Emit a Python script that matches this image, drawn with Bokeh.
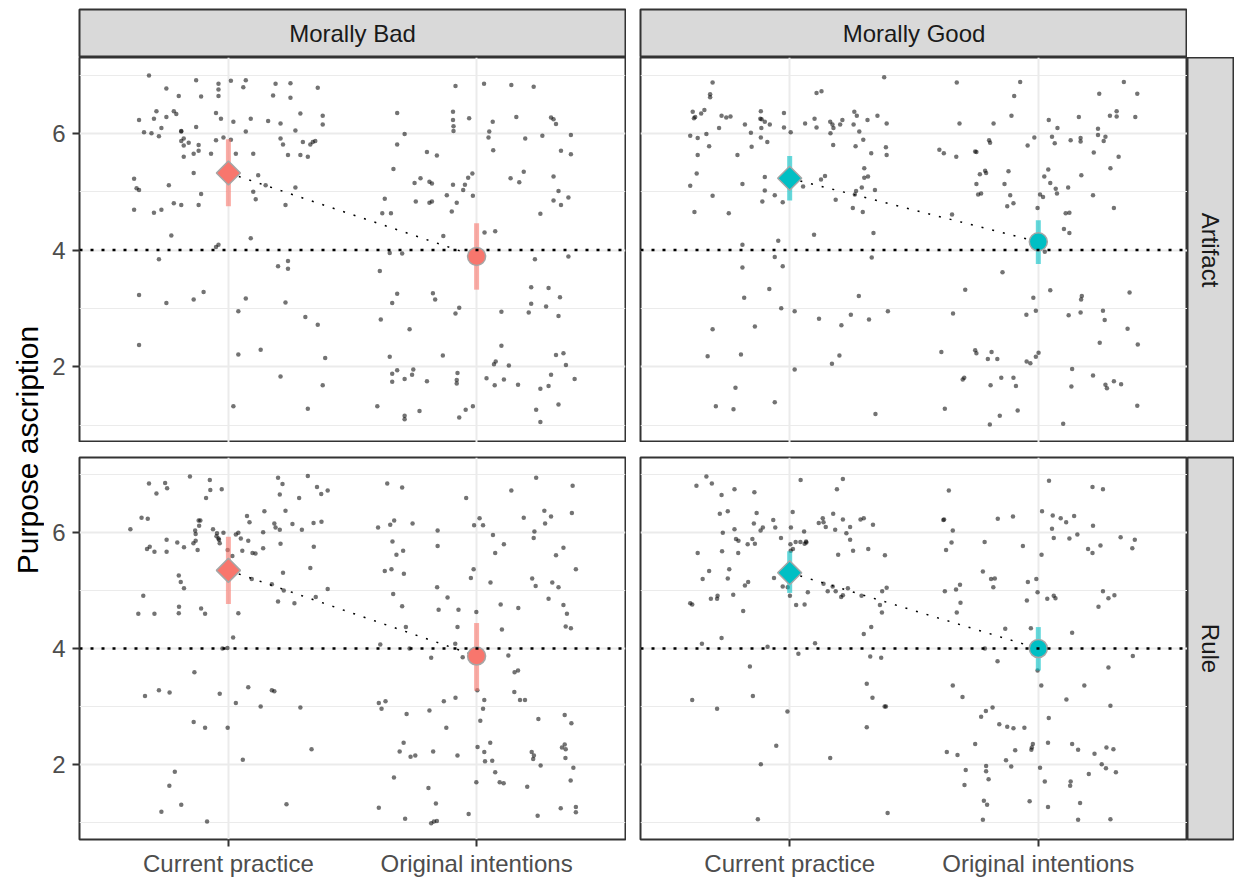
import math
from bokeh.plotting import figure
from bokeh.layouts import row, column
from bokeh.models import FixedTicker, LinearAxis, Range1d, ColumnDataSource, Grid, Span
from bokeh.core.properties import value
from bokeh.embed import file_html
from bokeh.resources import INLINE

# ---------------- data ----------------
conditions = ["Current practice", "Original intentions"]
morality = ["Morally Bad", "Morally Good"]
types = ["Artifact", "Rule"]
moral_colors = ["#F8766D", "#00BFC4"]
y_ticks = [2, 4, 6]
reference_level = 4

# summary: mean and interval per condition [Current practice, Original intentions]
bad_artifact_mean = [5.32, 3.89]
bad_artifact_lo = [4.75, 3.32]
bad_artifact_hi = [5.90, 4.46]
good_artifact_mean = [5.23, 4.14]
good_artifact_lo = [4.85, 3.76]
good_artifact_hi = [5.61, 4.51]
bad_rule_mean = [5.35, 3.87]
bad_rule_lo = [4.77, 3.27]
bad_rule_hi = [5.93, 4.44]
good_rule_mean = [5.31, 4.00]
good_rule_lo = [4.96, 3.62]
good_rule_hi = [5.68, 4.37]

# individual responses: [jitter offset from condition, rating]
bad_artifact_cp = [[-0.32,6.99],[-0.13,6.91],[-0.04,6.85],[0.01,6.90],[0.07,6.91],[0.06,6.79],[0.19,6.85],[0.25,6.86],[0.36,6.78],[-0.25,6.77],[-0.04,6.75],[-0.20,6.64],[-0.11,6.63],[-0.04,6.64],[0.18,6.65],[0.25,6.61],[-0.29,6.38],[-0.22,6.38],[-0.21,6.33],[-0.25,6.28],[-0.05,6.35],[-0.03,6.25],[0.02,6.20],[0.09,6.25],[0.16,6.21],[0.21,6.17],[0.29,6.34],[0.38,6.30],[0.38,6.15],[-0.36,6.23],[-0.30,6.25],[-0.34,6.02],[-0.31,6.00],[-0.28,5.95],[-0.27,6.09],[-0.13,6.11],[-0.19,6.04],[-0.19,6.03],[0.07,6.03],[0.27,6.05],[-0.18,5.91],[-0.19,5.87],[-0.16,5.84],[-0.18,5.79],[-0.12,5.80],[-0.05,5.88],[-0.02,5.93],[0.01,5.89],[0.21,5.91],[0.22,5.81],[0.30,5.85],[0.33,5.81],[0.34,5.85],[0.35,5.87],[-0.18,5.60],[-0.14,5.65],[-0.12,5.70],[-0.07,5.65],[0.03,5.65],[0.10,5.65],[0.24,5.63],[0.29,5.63],[0.32,5.60],[-0.14,5.32],[-0.38,5.22],[-0.37,5.06],[-0.36,5.03],[-0.24,5.11],[-0.11,4.96],[0.12,5.28],[0.15,5.11],[0.10,5.00],[0.27,5.07],[0.11,4.87],[0.23,4.77],[-0.38,4.69],[-0.30,4.64],[-0.27,4.69],[-0.22,4.80],[-0.19,4.77],[-0.12,4.77],[-0.23,4.25],[0.09,4.20],[-0.04,4.09],[-0.05,4.05],[-0.28,3.84],[0.20,3.72],[0.24,3.81],[0.24,3.68],[-0.36,3.23],[-0.25,3.09],[-0.14,3.15],[-0.10,3.28],[0.07,3.17],[0.04,2.95],[0.23,3.10],[0.31,2.85],[0.36,2.72],[-0.36,2.37],[0.04,2.21],[0.13,2.29],[0.39,2.15],[0.21,1.83],[0.38,1.68],[0.02,1.32],[0.32,1.28]]

bad_artifact_oi = [[-0.085,6.81],[0.03,6.85],[0.14,6.83],[0.23,6.80],[-0.32,6.35],[-0.095,6.37],[-0.095,6.23],[-0.093,6.12],[-0.093,6.04],[-0.03,6.26],[0.065,6.20],[0.051,6.03],[0.048,5.93],[0.067,5.71],[0.16,6.28],[0.30,6.27],[0.31,6.24],[0.32,6.16],[-0.29,5.99],[-0.32,5.81],[0.196,5.91],[0.265,5.96],[0.38,5.97],[0.34,5.70],[0.38,5.64],[-0.20,5.68],[-0.16,5.62],[-0.335,5.39],[-0.25,5.15],[-0.226,5.23],[-0.19,5.17],[-0.18,5.14],[-0.095,5.12],[-0.047,5.12],[-0.054,5.03],[-0.034,5.24],[-0.017,5.31],[-0.015,4.93],[-0.12,4.94],[-0.08,4.81],[-0.10,4.66],[-0.245,4.83],[-0.19,4.81],[-0.18,4.83],[-0.37,4.88],[-0.38,4.63],[-0.345,4.63],[0.137,5.23],[0.172,5.16],[0.19,5.34],[0.31,5.26],[0.33,5.01],[0.31,4.85],[0.34,4.77],[0.37,4.90],[0.257,4.62],[-0.134,4.24],[0.032,4.30],[0.075,4.32],[-0.35,3.95],[-0.30,3.94],[-0.39,3.64],[0.235,3.84],[0.37,3.89],[-0.32,3.25],[-0.34,3.09],[-0.176,3.26],[-0.167,3.15],[-0.386,2.81],[-0.27,2.64],[-0.085,2.91],[-0.07,3.01],[0.10,2.94],[0.22,3.36],[0.29,3.35],[0.336,3.19],[0.22,3.08],[0.21,2.93],[0.28,3.03],[0.33,2.87],[0.10,2.36],[-0.35,2.17],[-0.136,2.19],[-0.34,1.88],[-0.32,1.94],[-0.255,1.95],[-0.26,1.86],[-0.34,1.74],[-0.29,1.79],[-0.20,1.75],[-0.077,1.89],[-0.08,1.77],[-0.08,1.71],[0.07,2.04],[0.077,2.09],[0.13,2.02],[0.04,1.80],[0.073,1.68],[0.11,1.78],[0.167,1.69],[0.32,2.20],[0.35,2.23],[0.36,2.03],[0.30,1.86],[0.395,1.79],[0.257,1.62],[0.29,1.67],[-0.40,1.32],[-0.29,1.16],[-0.29,1.10],[-0.23,1.24],[-0.044,1.26],[-0.015,1.32],[-0.07,1.13],[0.24,1.26],[0.33,1.35],[0.257,1.05]]

good_artifact_cp = [[-0.31,6.87],[-0.32,6.67],[-0.32,6.62],[-0.39,6.37],[-0.385,6.26],[-0.38,6.28],[-0.356,6.34],[-0.343,6.40],[-0.274,6.30],[-0.255,6.27],[-0.238,6.29],[-0.116,6.38],[-0.118,6.25],[-0.113,6.24],[-0.10,6.20],[-0.023,6.35],[0.108,6.69],[0.128,6.72],[0.38,6.96],[-0.284,6.09],[-0.18,6.15],[-0.114,6.09],[-0.08,6.15],[-0.023,6.10],[0.004,6.02],[-0.156,6.01],[-0.116,5.93],[-0.09,5.85],[-0.153,5.77],[0.062,6.17],[0.10,6.25],[0.108,6.10],[0.163,6.20],[0.172,6.15],[0.176,6.09],[0.164,6.00],[0.203,6.15],[0.212,6.23],[0.26,6.37],[0.27,6.30],[0.313,6.23],[0.257,6.15],[0.28,6.03],[0.353,6.30],[0.39,6.17],[-0.40,5.96],[-0.37,5.92],[-0.335,5.99],[-0.324,5.78],[-0.37,5.63],[-0.21,5.63],[0.175,5.80],[0.265,5.78],[0.296,5.89],[0.328,5.66],[0.387,5.76],[0.39,5.63],[-0.374,5.31],[-0.40,5.10],[-0.31,4.93],[-0.383,4.65],[-0.245,4.63],[-0.19,5.13],[-0.10,5.25],[-0.10,5.02],[-0.11,4.83],[-0.06,4.94],[-0.028,4.82],[0.054,5.09],[0.126,5.21],[0.142,5.27],[0.185,4.86],[0.267,5.01],[0.262,4.95],[0.29,5.07],[0.30,5.24],[0.315,5.26],[0.30,5.40],[0.343,5.03],[0.254,4.72],[0.294,4.65],[0.098,4.26],[0.337,4.29],[-0.19,4.09],[-0.046,4.16],[-0.06,3.88],[-0.028,3.72],[0.33,3.87],[-0.19,3.70],[-0.082,3.33],[-0.183,3.18],[-0.034,3.00],[0.02,2.95],[0.278,3.21],[0.246,2.89],[0.395,2.95],[0.118,2.82],[0.208,2.71],[0.319,2.81],[-0.31,2.64],[-0.14,2.69],[-0.33,2.18],[-0.196,2.21],[0.20,2.19],[0.17,2.05],[0.02,1.95],[-0.218,1.64],[-0.297,1.32],[-0.226,1.27],[-0.06,1.39],[0.345,1.19]]

good_artifact_oi = [[-0.328,6.87],[-0.073,6.88],[-0.097,6.64],[-0.317,6.17],[-0.18,6.17],[-0.108,6.30],[0.245,6.68],[0.344,6.88],[0.398,6.68],[0.39,6.28],[0.288,6.30],[0.315,6.38],[0.315,6.29],[0.163,6.28],[0.042,6.23],[0.077,6.09],[0.24,6.08],[0.24,5.97],[0.27,5.94],[0.263,5.87],[-0.198,5.88],[-0.194,5.84],[-0.016,5.93],[-0.043,5.79],[0.055,5.94],[0.066,5.83],[0.13,5.88],[0.17,5.92],[0.17,5.86],[0.223,5.67],[0.323,5.60],[-0.398,5.72],[-0.38,5.66],[-0.33,5.60],[-0.254,5.69],[-0.249,5.68],[-0.235,5.30],[-0.214,5.36],[-0.21,5.32],[-0.12,5.35],[-0.249,5.13],[-0.136,5.13],[0.024,5.26],[0.04,5.38],[0.048,5.15],[0.07,5.05],[0.075,4.97],[0.12,5.07],[0.173,5.28],[0.29,5.40],[0.22,4.94],[0.304,4.72],[-0.242,4.95],[-0.23,4.97],[-0.113,4.94],[-0.125,4.75],[-0.10,4.80],[-0.003,4.72],[0.007,4.95],[0.019,4.91],[0.11,4.63],[0.125,4.64],[-0.347,4.61],[0.103,4.36],[0.125,4.29],[0.026,3.97],[-0.144,3.62],[-0.294,3.32],[0.048,3.31],[-0.02,3.18],[0.175,3.21],[0.172,3.15],[0.367,3.27],[-0.343,2.91],[-0.048,2.89],[-0.01,2.96],[0.122,2.88],[0.17,2.93],[0.26,2.96],[0.267,2.80],[0.359,2.65],[0.247,2.41],[0.40,2.38],[-0.39,2.25],[-0.254,2.28],[-0.249,2.23],[-0.188,2.25],[-0.203,2.13],[-0.165,2.13],[-0.047,2.09],[-0.032,2.06],[-0.01,2.17],[0.001,2.24],[0.136,1.96],[-0.304,1.78],[-0.298,1.81],[-0.192,1.68],[-0.149,1.81],[-0.10,1.81],[-0.09,1.67],[0.133,1.66],[0.22,1.85],[0.27,1.69],[0.276,1.63],[0.304,1.75],[0.333,1.70],[-0.376,1.28],[-0.155,1.16],[-0.083,1.25],[-0.195,1.01],[0.10,1.02],[0.398,1.33]]

bad_rule_cp = [[-0.32,6.85],[-0.255,6.86],[-0.247,6.77],[-0.29,6.68],[-0.155,6.97],[-0.075,6.91],[-0.073,6.74],[-0.09,6.60],[-0.027,6.75],[0.20,6.95],[0.218,6.84],[0.207,6.66],[0.285,6.60],[0.32,6.98],[0.357,6.79],[0.374,6.67],[0.40,6.73],[-0.35,6.26],[-0.325,6.24],[-0.395,6.06],[-0.12,6.21],[-0.113,6.21],[-0.118,6.12],[-0.134,6.04],[-0.132,5.98],[-0.062,6.06],[-0.046,5.99],[-0.048,5.94],[-0.02,6.00],[0.075,6.29],[0.085,6.18],[0.145,6.37],[0.23,6.38],[0.185,6.16],[0.19,6.09],[0.207,6.05],[0.258,6.15],[0.296,6.05],[0.343,6.17],[0.375,6.19],[0.14,6.01],[0.03,5.97],[0.04,6.00],[-0.328,5.72],[-0.317,5.76],[-0.298,5.67],[-0.249,5.88],[-0.249,5.67],[-0.206,5.83],[-0.179,5.75],[-0.141,5.82],[-0.132,5.86],[-0.124,5.70],[-0.04,5.90],[-0.035,5.82],[-0.038,5.88],[-0.003,5.70],[0.016,5.60],[0.05,5.90],[0.08,5.86],[0.056,5.69],[0.097,5.65],[0.109,5.64],[0.14,5.73],[0.21,5.81],[0.344,5.76],[-0.20,5.26],[-0.192,5.15],[-0.179,5.04],[-0.343,4.91],[-0.363,4.60],[-0.298,4.60],[-0.199,4.72],[-0.20,4.61],[-0.11,4.69],[-0.094,4.60],[0.04,4.61],[0.22,5.31],[0.33,5.39],[0.175,5.11],[0.094,5.20],[0.223,5.00],[0.20,4.81],[0.266,4.78],[0.352,4.89],[0.40,5.03],[0.019,4.19],[-0.024,4.00],[-0.004,4.01],[-0.137,3.59],[-0.336,3.18],[-0.28,3.28],[-0.237,3.24],[-0.035,3.22],[0.03,3.06],[0.08,3.33],[0.13,3.00],[0.175,3.28],[0.185,3.26],[0.29,2.98],[-0.14,2.73],[-0.094,2.63],[-0.003,2.63],[0.335,2.26],[0.058,2.08],[-0.216,1.87],[-0.238,1.63],[-0.19,1.30],[-0.27,1.18],[-0.086,1.01],[0.234,1.31]]

bad_rule_oi = [[-0.36,6.85],[-0.30,6.78],[-0.042,6.60],[0.24,6.95],[0.387,6.81],[0.14,6.73],[-0.397,6.09],[-0.348,6.14],[-0.332,6.21],[-0.258,6.16],[-0.157,6.04],[-0.157,5.77],[-0.01,6.13],[0.012,6.25],[0.026,6.13],[0.066,5.96],[0.11,5.80],[0.075,5.65],[0.19,6.26],[0.273,6.38],[0.30,6.28],[0.276,6.16],[0.233,6.02],[0.23,5.91],[0.384,6.34],[0.35,5.74],[0.32,5.61],[0.40,5.37],[-0.339,5.85],[-0.323,5.62],[-0.296,5.69],[-0.37,5.34],[-0.343,5.37],[-0.293,5.29],[-0.159,5.06],[-0.012,5.37],[-0.023,5.22],[0.056,5.14],[0.224,5.21],[0.238,5.08],[0.305,5.14],[0.33,5.06],[-0.336,4.94],[-0.30,4.73],[-0.117,4.88],[-0.153,4.67],[-0.073,4.67],[-0.001,4.63],[0.097,4.76],[0.168,4.70],[0.29,4.86],[0.35,4.75],[0.364,4.60],[0.359,4.38],[0.38,4.35],[-0.285,4.37],[-0.077,4.37],[0.102,4.33],[-0.388,4.07],[-0.27,4.00],[-0.183,3.84],[-0.086,4.08],[-0.056,3.85],[0.128,3.88],[0.153,3.59],[0.167,3.62],[0.003,3.28],[-0.394,3.06],[-0.367,3.09],[-0.383,2.96],[-0.282,2.87],[-0.19,2.93],[-0.132,3.09],[-0.085,3.15],[0.031,3.11],[0.026,2.96],[0.015,2.75],[0.152,3.25],[0.175,3.11],[0.195,3.11],[0.355,2.85],[0.382,2.71],[0.249,2.78],[-0.122,2.63],[-0.294,2.37],[-0.31,2.22],[-0.266,2.13],[-0.247,2.15],[-0.175,2.22],[-0.077,2.15],[0.004,2.30],[0.031,2.21],[0.034,2.05],[0.055,2.37],[0.063,2.06],[0.222,2.21],[0.231,2.15],[0.228,2.09],[0.258,1.98],[0.344,2.29],[0.355,2.34],[0.359,2.26],[0.358,2.11],[0.39,1.94],[-0.333,1.77],[-0.194,1.59],[-0.001,1.69],[0.075,1.86],[0.093,1.69],[0.109,1.67],[0.204,1.61],[0.379,1.72],[-0.394,1.25],[-0.288,1.06],[-0.164,1.32],[-0.032,1.14],[-0.183,0.98],[-0.172,1.01],[-0.16,1.02],[0.246,1.11],[0.339,1.24],[0.40,1.26],[0.40,1.17]]

good_rule_cp = [[-0.335,6.97],[-0.375,6.81],[-0.313,6.85],[-0.222,6.75],[-0.274,6.65],[-0.142,6.70],[0.044,6.91],[0.19,6.75],[0.214,6.93],[-0.281,6.33],[-0.249,6.37],[-0.133,6.34],[-0.144,6.16],[-0.066,6.22],[-0.058,6.09],[-0.117,6.04],[-0.108,6.09],[0.012,6.36],[0.005,6.09],[0.058,6.02],[0.133,6.25],[0.117,6.17],[0.136,6.18],[0.145,6.10],[0.175,6.33],[0.183,6.05],[0.214,6.23],[0.243,6.10],[0.228,5.99],[0.285,6.23],[0.298,6.25],[0.335,6.14],[-0.269,6.00],[-0.222,6.06],[-0.216,5.89],[-0.206,5.86],[-0.169,5.80],[-0.15,5.89],[-0.14,5.81],[-0.035,5.91],[0.003,5.80],[0.024,5.84],[0.043,5.84],[0.066,5.85],[0.067,5.83],[0.06,5.81],[0.243,5.88],[0.316,5.72],[-0.37,5.65],[-0.272,5.68],[-0.207,5.65],[0.195,5.62],[0.255,5.69],[0.383,5.61],[-0.324,5.34],[-0.35,5.20],[-0.243,5.37],[-0.249,5.21],[-0.18,5.09],[-0.167,5.15],[-0.227,4.93],[-0.063,5.22],[-0.028,5.07],[-0.008,5.06],[0.001,4.91],[0.004,5.69],[0.013,5.72],[0.073,4.97],[0.06,4.76],[0.026,4.75],[0.136,5.12],[0.173,5.07],[0.153,4.99],[0.185,4.99],[0.207,4.89],[0.214,4.92],[0.234,5.04],[0.289,4.91],[0.363,4.75],[0.372,4.99],[0.39,5.05],[0.371,4.62],[-0.40,4.78],[-0.392,4.76],[-0.317,4.86],[-0.292,4.86],[-0.29,4.91],[-0.187,4.65],[-0.274,4.18],[-0.353,4.08],[-0.089,4.03],[0.102,4.09],[0.035,3.91],[0.298,4.25],[0.328,4.37],[0.324,3.86],[0.368,3.84],[-0.16,3.69],[0.31,3.39],[-0.392,3.11],[-0.292,2.96],[-0.148,3.18],[-0.009,2.91],[0.333,3.15],[0.382,3.00],[0.387,3.00],[0.31,2.64],[-0.054,2.32],[0.163,2.11],[-0.116,2.00],[0.394,1.16],[-0.128,1.05]]

good_rule_oi = [[-0.36,6.73],[0.043,6.90],[0.218,6.79],[0.26,6.75],[-0.379,6.23],[-0.382,6.22],[-0.344,6.04],[-0.349,5.83],[-0.371,5.70],[-0.163,6.24],[-0.102,6.28],[-0.216,5.84],[-0.062,5.77],[0.013,5.62],[0.015,6.37],[0.058,6.30],[0.09,6.25],[0.112,6.18],[0.144,6.29],[0.055,6.07],[0.062,5.91],[0.125,5.90],[0.157,5.97],[0.22,6.12],[0.25,5.78],[0.20,5.72],[0.218,5.65],[0.331,5.92],[0.388,5.88],[0.378,5.73],[-0.223,5.33],[-0.19,5.20],[-0.175,5.21],[-0.181,5.06],[-0.042,5.15],[-0.008,5.20],[-0.376,4.99],[-0.331,5.02],[-0.315,5.10],[-0.313,4.79],[-0.328,4.62],[-0.046,4.83],[-0.003,4.97],[0.036,4.86],[0.062,4.91],[0.069,4.87],[0.26,4.99],[0.282,4.87],[0.306,4.92],[0.242,4.72],[-0.133,4.34],[-0.03,4.35],[0.136,4.27],[-0.215,4.00],[-0.164,3.78],[0.38,3.87],[-0.003,3.62],[0.282,3.67],[-0.344,3.36],[-0.305,3.16],[0.012,3.36],[0.185,3.36],[0.113,3.12],[-0.184,2.98],[-0.211,2.92],[-0.23,2.82],[0.042,2.80],[0.29,3.01],[-0.157,2.69],[-0.125,2.65],[-0.10,2.62],[-0.056,2.63],[-0.368,2.21],[-0.325,2.16],[-0.254,2.35],[-0.093,2.24],[-0.022,2.35],[-0.026,2.29],[-0.028,2.25],[0.039,2.37],[0.136,2.35],[0.16,2.25],[0.226,2.18],[0.274,2.29],[0.302,2.26],[-0.292,1.90],[-0.21,1.97],[-0.21,1.88],[-0.20,1.74],[-0.13,2.07],[-0.109,1.96],[-0.297,1.64],[0.007,1.94],[0.026,1.70],[0.13,1.70],[0.128,1.63],[0.203,1.83],[0.255,2.00],[0.272,1.93],[0.312,1.86],[-0.219,1.37],[-0.206,1.30],[-0.035,1.36],[0.039,1.26],[0.168,1.33],[-0.223,1.04],[0.16,1.04],[0.29,1.05]]

# ---------------- styling / layout constants ----------------
FONT = "Liberation Sans"
PANEL_W_L, PANEL_W_R, PANEL_H = 546, 547, 385
LEFT_B = 35
GAP = 15
STRIP_TOP = 9
STRIP_H = 48
RSTRIP_W = 46
BOTTOM_B = 37
YLAB_W = 44
TOTAL_H = STRIP_TOP + STRIP_H + PANEL_H + GAP + PANEL_H + BOTTOM_B

GRID_COL = "#EBEBEB"
BORDER_COL = "#333333"


def style_axis(ax, standoff):
    ax.axis_line_color = None
    ax.major_tick_line_color = BORDER_COL
    ax.major_tick_line_width = 2
    ax.major_tick_out = 7
    ax.major_tick_in = 0
    ax.minor_tick_line_color = None
    ax.major_label_text_font = FONT
    ax.major_label_text_font_size = "24px"
    ax.major_label_text_color = "#4D4D4D"
    ax.major_label_standoff = standoff


def make_panel(color, cp_pts, oi_pts, means, lows, highs, left, bottom):
    mbl = LEFT_B if left else GAP - 1
    mbr = 1 if left else 0
    mbt = GAP if bottom else 0
    mbb = BOTTOM_B if bottom else 0
    pw = PANEL_W_L if left else PANEL_W_R
    p = figure(width=mbl + pw + mbr, height=mbt + PANEL_H + mbb,
               x_range=Range1d(0.4, 2.6), y_range=Range1d(0.7, 7.3),
               output_backend="svg", toolbar_location=None, title=None,
               x_axis_location=None, y_axis_location=None,
               min_border_left=mbl, min_border_right=mbr,
               min_border_top=mbt, min_border_bottom=mbb)
    p.center = []
    p.add_layout(Grid(dimension=0, ticker=FixedTicker(ticks=[1, 2]),
                      grid_line_color=GRID_COL, grid_line_width=2), "center")
    p.add_layout(Grid(dimension=1, ticker=FixedTicker(ticks=y_ticks, minor_ticks=[1, 3, 5, 7]),
                      grid_line_color=GRID_COL, grid_line_width=2,
                      minor_grid_line_color=GRID_COL, minor_grid_line_width=1), "center")
    p.background_fill_color = "white"
    p.border_fill_color = "white"
    p.outline_line_color = BORDER_COL
    p.outline_line_width = 2

    if left:
        ax = LinearAxis(ticker=FixedTicker(ticks=y_ticks))
        style_axis(ax, 7)
        p.add_layout(ax, "left")
    if bottom:
        ax = LinearAxis(ticker=FixedTicker(ticks=[1, 2]),
                        major_label_overrides={1: conditions[0], 2: conditions[1]})
        style_axis(ax, 3)
        p.add_layout(ax, "below")

    for idx, pts in ((1, cp_pts), (2, oi_pts)):
        src = ColumnDataSource(dict(x=[idx + d for d, _ in pts], y=[v for _, v in pts]))
        p.scatter("x", "y", source=src, size=4.5, fill_color="black", fill_alpha=0.55,
                  line_color=None)

    p.line([1, 2], means, line_color="black", line_width=1.5, line_dash="2 9")
    p.segment(x0=[1, 2], y0=lows, x1=[1, 2], y1=highs, line_color=color,
              line_alpha=0.6, line_width=5)
    p.scatter([1], [means[0]], marker="square", angle=math.pi / 4, size=17,
              fill_color=color, line_color="#A6A6A6", line_width=1.5)
    p.scatter([2], [means[1]], marker="circle", size=18,
              fill_color=color, line_color="#A6A6A6", line_width=1.5)
    p.add_layout(Span(location=reference_level, dimension="width", line_color="black",
                      line_width=2.5, line_dash="3 8"))
    return p


def make_strip(label, width, height, mbl, mbr, mbt, mbb, vertical=False):
    s = figure(width=width, height=height, x_range=Range1d(0, 1), y_range=Range1d(0, 1),
               output_backend="svg", toolbar_location=None, title=None,
               x_axis_location=None, y_axis_location=None,
               min_border_left=mbl, min_border_right=mbr,
               min_border_top=mbt, min_border_bottom=mbb)
    s.center = []
    s.background_fill_color = "#D9D9D9"
    s.border_fill_color = "white"
    s.outline_line_color = BORDER_COL
    s.outline_line_width = 2
    s.text(x=[0.5], y=[0.5], text=[label], angle=(-math.pi / 2 if vertical else 0),
           text_align="center", text_baseline="middle", text_font=value(FONT),
           text_font_size="24px", text_color="#1A1A1A")
    return s


tl = make_panel(moral_colors[0], bad_artifact_cp, bad_artifact_oi,
                bad_artifact_mean, bad_artifact_lo, bad_artifact_hi, True, False)
tr = make_panel(moral_colors[1], good_artifact_cp, good_artifact_oi,
                good_artifact_mean, good_artifact_lo, good_artifact_hi, False, False)
bl = make_panel(moral_colors[0], bad_rule_cp, bad_rule_oi,
                bad_rule_mean, bad_rule_lo, bad_rule_hi, True, True)
br = make_panel(moral_colors[1], good_rule_cp, good_rule_oi,
                good_rule_mean, good_rule_lo, good_rule_hi, False, True)

s_left = make_strip(morality[0], LEFT_B + PANEL_W_L + 1, STRIP_TOP + STRIP_H, LEFT_B, 1, STRIP_TOP, 0)
s_right = make_strip(morality[1], GAP - 1 + PANEL_W_R, STRIP_TOP + STRIP_H, GAP - 1, 0, STRIP_TOP, 0)
r_top = make_strip(types[0], RSTRIP_W + 1, PANEL_H, 0, 1, 0, 0, vertical=True)
r_bot = make_strip(types[1], RSTRIP_W + 1, GAP + PANEL_H + BOTTOM_B, 0, 1, GAP, BOTTOM_B, vertical=True)

ylab = figure(width=YLAB_W, height=TOTAL_H, x_range=Range1d(0, YLAB_W), y_range=Range1d(0, TOTAL_H),
              output_backend="svg", toolbar_location=None, title=None,
              x_axis_location=None, y_axis_location=None,
              min_border_left=0, min_border_right=0, min_border_top=0, min_border_bottom=0)
ylab.center = []
ylab.outline_line_color = None
ylab.background_fill_color = "white"
ylab.border_fill_color = "white"
label_y = TOTAL_H - (STRIP_TOP + STRIP_H + (2 * PANEL_H + GAP) / 2)
ylab.text(x=[27], y=[label_y], text=["Purpose ascription"], angle=math.pi / 2,
          text_align="center", text_baseline="middle", text_font=value(FONT),
          text_font_size="30px", text_color="black")

layout = row(ylab, column(row(s_left, s_right), row(tl, tr, r_top), row(bl, br, r_bot)))

open("out.html", "w").write(file_html(layout, INLINE))
